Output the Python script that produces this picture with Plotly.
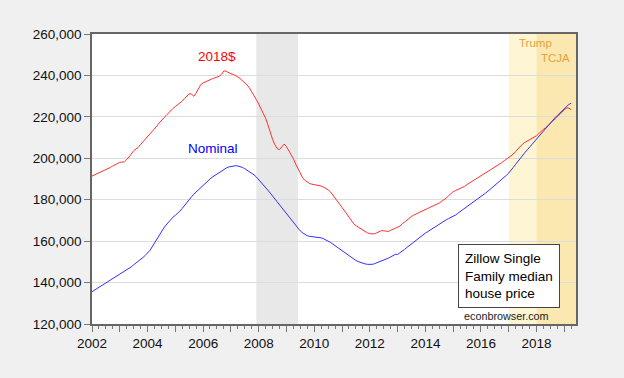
import pandas as pd
import plotly.graph_objects as go

# Monthly data, 2002-01 .. 2019-04
dates = pd.date_range("2002-01-01", periods=208, freq="MS")

nominal = [
    # 2002
    135600, 136300, 137000, 137800, 138500, 139200, 139900, 140600, 141300, 141900, 142500, 143100,
    # 2003
    143800, 144600, 145300, 146000, 146800, 147600, 148500, 149300, 150200, 151200, 152100, 153100,
    # 2004
    154100, 155500, 157200, 159100, 161000, 162800, 164600, 166300, 167800, 169200, 170500, 171600,
    # 2005
    172500, 173400, 174500, 175800, 177300, 178900, 180100, 181400, 182700, 183800, 184900, 185900,
    # 2006
    187100, 188000, 189000, 190000, 190900, 191700, 192500, 193300, 194000, 194700, 195300, 195800,
    # 2007
    196100, 196300, 196400, 196300, 196000, 195600, 195000, 194300, 193700, 192900, 192000, 191000,
    # 2008
    189800, 188600, 187300, 186000, 184600, 183200, 181800, 180400, 179000, 177600, 176200, 174800,
    # 2009
    173300, 171800, 170300, 168800, 167400, 166000, 164900, 164000, 163200, 162600, 162300, 162200,
    # 2010
    162100, 162000, 161900, 161600, 161200, 160700, 160100, 159400, 158600, 157800, 156900, 156100,
    # 2011
    155300, 154500, 153600, 152800, 152000, 151300, 150700, 150100, 149600, 149300, 149000, 148800,
    # 2012
    148700, 148800, 149100, 149500, 149900, 150300, 150800, 151300, 151800, 152400, 153000, 153600,
    # 2013
    153600, 154300, 155100, 156000, 156900, 157800, 158900, 159800, 160600, 161400, 162300, 163100,
    # 2014
    163900, 164600, 165300, 166000, 166700, 167400, 168100, 168800, 169600, 170300, 170900, 171400,
    # 2015
    171900, 172600, 173400, 174200, 175000, 175800, 176600, 177400, 178200, 179000, 179800, 180700,
    # 2016
    181600, 182400, 183200, 184100, 185000, 185900, 186800, 187700, 188700, 189700, 190700, 191800,
    # 2017
    192900, 194100, 195600, 197100, 198600, 200100, 201500, 202800, 204100, 205400, 206700, 208000,
    # 2018
    209300, 210600, 212000, 213300, 214600, 215900, 217200, 218400, 219600, 220700, 221800, 222900,
    # 2019
    224000, 225100, 226000, 226600,
]

real2018 = [
    # 2002
    191400, 191900, 192500, 193000, 193400, 193900, 194400, 195000, 195600, 196300, 197000, 197600,
    # 2003
    198000, 198200, 198200, 199300, 200500, 202000, 203600, 204400, 205300, 206600, 207900, 209000,
    # 2004
    210300, 211500, 212600, 214000, 215500, 217000, 218400, 219500, 220600, 221900, 223100, 224100,
    # 2005
    225000, 225800, 226700, 227600, 228800, 230000, 231200, 231000, 229900, 231500, 233600, 235600,
    # 2006
    236400, 237000, 237500, 238000, 238400, 238800, 239300, 239600, 240600, 242200, 242000, 241300,
    # 2007
    240800, 240500, 240000, 239300, 238500, 237600, 236600, 235400, 234000, 232300, 230300, 228300,
    # 2008
    226200, 224000, 221800, 219300, 216200, 212500, 209200, 206500, 204600, 204200, 205800, 206900,
    # 2009
    205600, 203800, 201900, 199800, 197200, 194700, 192300, 190600, 189300, 188400, 187800, 187500,
    # 2010
    187300, 187200, 187000, 186600, 186100, 185500, 184800, 183800, 182400, 180600, 179200, 177800,
    # 2011
    176300, 174700, 173000, 171300, 169800, 168500, 167500, 166700, 166000, 165300, 164600, 164000,
    # 2012
    163600, 163400, 163500, 164000, 164600, 165100, 165000, 164700, 164700, 165200, 165800, 166200,
    # 2013
    166600, 167300, 168300, 169300, 170200, 171100, 171900, 172600, 173200, 173800, 174300, 174800,
    # 2014
    175300, 175800, 176300, 176800, 177300, 177800, 178400, 179200, 179900, 180800, 181900, 183100,
    # 2015
    183900, 184400, 184900, 185300, 185800, 186500, 187300, 188000, 188800, 189500, 190200, 190900,
    # 2016
    191500, 192100, 192700, 193400, 194100, 194800, 195500, 196300, 197100, 197900, 198800, 199600,
    # 2017
    200200, 200900, 202000, 203300, 204600, 205800, 206900, 207700, 208300, 208900, 209600, 210400,
    # 2018
    210900, 212000, 213100, 214000, 214800, 215700, 216800, 217900, 219100, 220300, 221400, 222400,
    # 2019
    223500, 224300, 224200, 223500,
]

y_ticks = [120000, 140000, 160000, 180000, 200000, 220000, 240000, 260000]
y_ticklabels = ["120,000", "140,000", "160,000", "180,000", "200,000", "220,000", "240,000", "260,000"]
year_ticks = list(range(2002, 2020))
year_labels = [str(y) if y % 2 == 0 else "" for y in year_ticks]

FONT = "Arial, 'Liberation Sans', sans-serif"

fig = go.Figure()
fig.add_trace(go.Scatter(x=dates, y=real2018, mode="lines",
                         line=dict(color="#FF3030", width=1), name="2018$"))
fig.add_trace(go.Scatter(x=dates, y=nominal, mode="lines",
                         line=dict(color="#3030FF", width=1), name="Nominal"))

# Shaded regions
fig.add_shape(type="rect", xref="x", yref="paper", x0="2007-12-01", x1="2009-06-01",
              y0=0, y1=1, fillcolor="#E8E8E8", line_width=0, layer="below")
fig.add_shape(type="rect", xref="x", yref="paper", x0="2017-01-01", x1="2019-06-03",
              y0=0, y1=1, fillcolor="#FDF5D4", line_width=0, layer="below")
fig.add_shape(type="rect", xref="x", yref="paper", x0="2018-01-01", x1="2019-06-03",
              y0=0, y1=1, fillcolor="#FBE8B0", line_width=0, layer="below")

fig.add_annotation(x="2006-07-08", y=248900, text="2018$", showarrow=False,
                   font=dict(color="#FF0000", size=13.5, family=FONT))
fig.add_annotation(x="2006-05-08", y=204700, text="Nominal", showarrow=False,
                   font=dict(color="#0000FF", size=13.5, family=FONT))
fig.add_annotation(x="2017-12-20", y=255650, text="Trump", showarrow=False,
                   font=dict(color="#E3A23A", size=11.5, family=FONT))
fig.add_annotation(x="2018-09-01", y=248650, text="TCJA", showarrow=False,
                   font=dict(color="#E3A23A", size=11.5, family=FONT))
fig.add_annotation(xref="paper", yref="paper", x=0.757, y=0.276, xanchor="left", yanchor="top",
                   text="Zillow Single<br>Family median<br>house price", showarrow=False, align="left",
                   font=dict(color="#000000", size=13.5, family=FONT),
                   bgcolor="white", bordercolor="#444444", borderwidth=1, borderpad=6)
fig.add_annotation(xref="paper", yref="paper", x=0.8567, y=0.0286, xanchor="center", yanchor="middle",
                   text="econbrowser.com", showarrow=False,
                   font=dict(color="#222222", size=10.8, family=FONT))

fig.update_layout(
    width=624, height=378,
    margin=dict(l=92, r=48, t=34, b=54),
    paper_bgcolor="#F0F0F0", plot_bgcolor="white",
    showlegend=False,
    font=dict(family=FONT, size=13.5, color="#111111"),
)
fig.update_xaxes(
    type="date", range=["2002-01-01", "2019-06-03"],
    tickmode="array", tickvals=[f"{y}-01-01" for y in year_ticks], ticktext=year_labels,
    ticks="outside", ticklen=6, tickcolor="#777777", tickwidth=1,
    minor=dict(dtick="M3", tick0="2002-01-01", ticks="outside", ticklen=3,
               tickcolor="#777777", showgrid=False),
    showgrid=False, showline=True, linecolor="#666666", linewidth=1.5, mirror=True,
    tickfont=dict(size=13.5, family=FONT, color="#111111"),
)
fig.update_yaxes(
    range=[120000, 260000], tickmode="array", tickvals=y_ticks, ticktext=y_ticklabels,
    ticks="outside", ticklen=6, tickcolor="#777777",
    showgrid=True, gridcolor="#DCDCDC", gridwidth=1, zeroline=False,
    showline=True, linecolor="#666666", linewidth=1.5, mirror=True,
    tickfont=dict(size=13.5, family=FONT, color="#111111"),
)

fig.write_html("out.html", config={"displayModeBar": False},
               post_script="document.body.style.margin='0';document.body.style.background='#F0F0F0';")
